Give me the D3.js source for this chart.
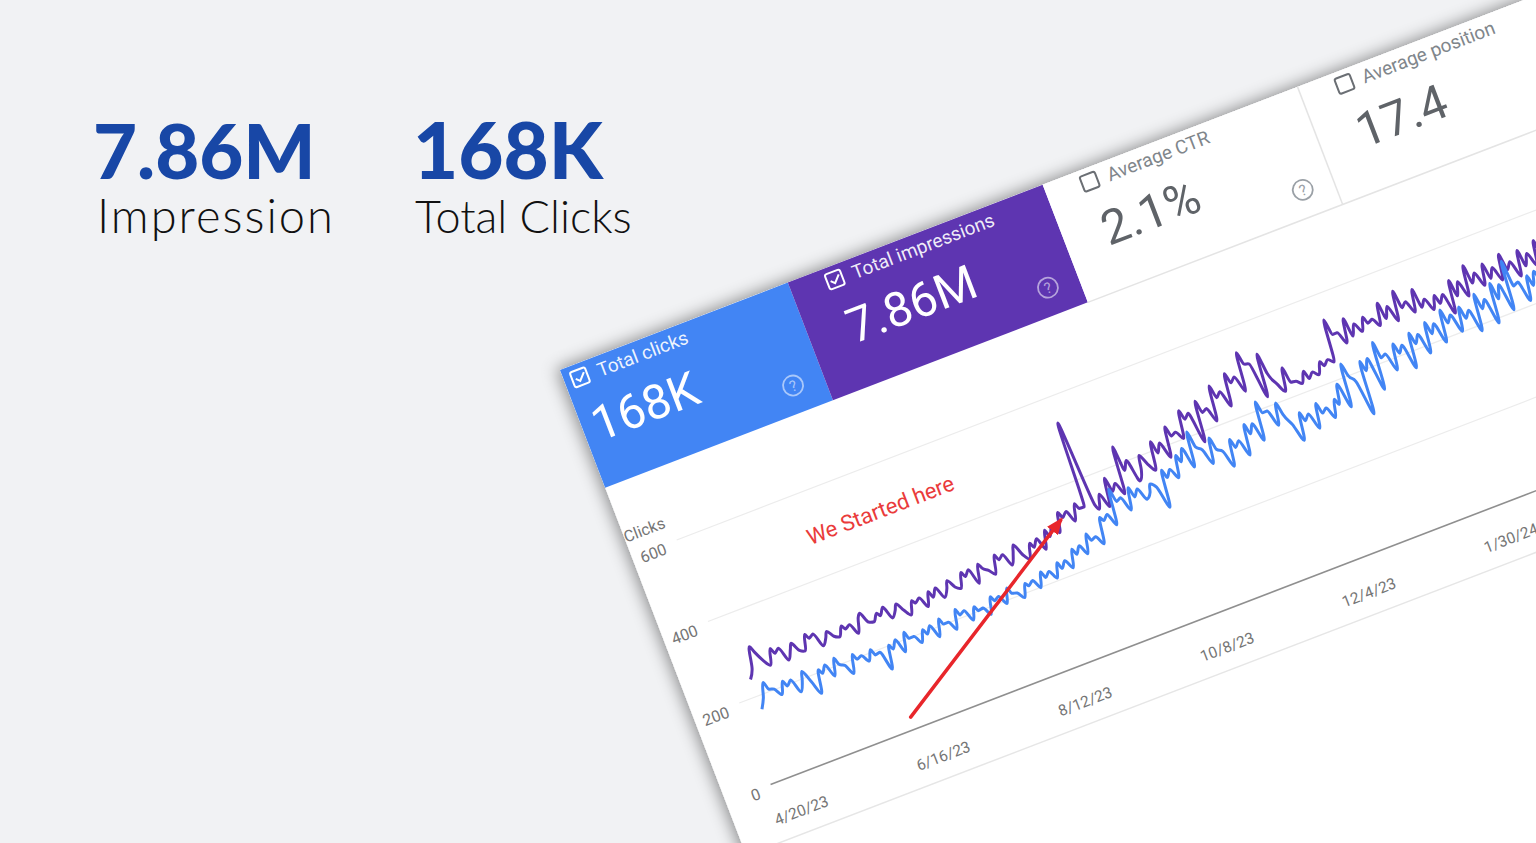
<!DOCTYPE html>
<html><head><meta charset="utf-8">
<script src="https://cdn.jsdelivr.net/npm/d3@7"></script>
<style>html,body{margin:0;padding:0;background:#f1f2f4;overflow:hidden}</style>
</head><body>
<svg id="c" width="1536" height="843"></svg>
<script>
// ---------- data ----------
const summaryValues = ["7.86M", "168K"];
const summaryLabels = ["Impression", "Total Clicks"];

const metricLabels = ["Total clicks", "Total impressions", "Average CTR", "Average position"];
const metricValues = ["168K", "7.86M", "2.1%", "17.4"];
const metricChecked = [true, true, false, false];

const dates = [
"2023-04-20","2023-04-22","2023-04-24","2023-04-25", "2023-04-27","2023-04-29","2023-05-01","2023-05-02",
"2023-05-04","2023-05-06","2023-05-08","2023-05-09", "2023-05-11","2023-05-13","2023-05-15","2023-05-16",
"2023-05-18","2023-05-20","2023-05-22","2023-05-23", "2023-05-25","2023-05-27","2023-05-29","2023-05-30",
"2023-06-01","2023-06-03","2023-06-05","2023-06-06", "2023-06-08","2023-06-10","2023-06-12","2023-06-13",
"2023-06-15","2023-06-17","2023-06-19","2023-06-20", "2023-06-22","2023-06-24","2023-06-26","2023-06-27",
"2023-06-29","2023-07-01","2023-07-03","2023-07-04", "2023-07-06","2023-07-08","2023-07-10","2023-07-11",
"2023-07-13","2023-07-15","2023-07-17","2023-07-18", "2023-07-20","2023-07-22","2023-07-24","2023-07-25",
"2023-07-27","2023-07-29","2023-07-31","2023-08-01", "2023-08-03","2023-08-05","2023-08-07","2023-08-08",
"2023-08-10","2023-08-12","2023-08-14","2023-08-15", "2023-08-17","2023-08-19","2023-08-21","2023-08-22",
"2023-08-24","2023-08-26","2023-08-28","2023-08-29", "2023-08-31","2023-09-02","2023-09-04","2023-09-05",
"2023-09-07","2023-09-09","2023-09-11","2023-09-12", "2023-09-14","2023-09-16","2023-09-18","2023-09-19",
"2023-09-21","2023-09-23","2023-09-25","2023-09-26", "2023-09-28","2023-09-30","2023-10-02","2023-10-03",
"2023-10-05","2023-10-07","2023-10-09","2023-10-10", "2023-10-12","2023-10-14","2023-10-16","2023-10-17",
"2023-10-19","2023-10-21","2023-10-23","2023-10-24", "2023-10-26","2023-10-28","2023-10-30","2023-10-31",
"2023-11-02","2023-11-04","2023-11-06","2023-11-07", "2023-11-09","2023-11-11","2023-11-13","2023-11-14",
"2023-11-16","2023-11-18","2023-11-20","2023-11-21", "2023-11-23","2023-11-25","2023-11-27","2023-11-28",
"2023-11-30","2023-12-02","2023-12-04","2023-12-05", "2023-12-07","2023-12-09","2023-12-11","2023-12-12",
"2023-12-14","2023-12-16","2023-12-18","2023-12-19", "2023-12-21","2023-12-23","2023-12-25","2023-12-26",
"2023-12-28","2023-12-30","2024-01-01","2024-01-02", "2024-01-04","2024-01-06","2024-01-08","2024-01-09",
"2024-01-11","2024-01-13","2024-01-15","2024-01-16", "2024-01-18","2024-01-20","2024-01-22","2024-01-23",
"2024-01-25","2024-01-27","2024-01-29","2024-01-30", "2024-02-01","2024-02-03","2024-02-05","2024-02-06",
"2024-02-08","2024-02-10","2024-02-12","2024-02-13", "2024-02-15","2024-02-17","2024-02-19","2024-02-20",
"2024-02-22","2024-02-24","2024-02-26","2024-02-27", "2024-02-29","2024-03-02","2024-03-04","2024-03-05",
"2024-03-07","2024-03-09","2024-03-11","2024-03-12", "2024-03-14","2024-03-16","2024-03-18","2024-03-19",
"2024-03-21","2024-03-23","2024-03-25","2024-03-26", "2024-03-28","2024-03-30","2024-04-01","2024-04-02"];

const clicks = [
167,190,223,205, 200,182,210,196, 206,172,196,215, 185,152,205,194, 210,178,217,200,
192,168,210,196, 200,182,205,190, 192,146,200,188, 206,172,215,198, 198,178,205,192,
208,176,215,200, 200,178,222,206, 212,184,212,200, 202,182,220,208, 214,192,225,210,
206,190,220,212, 220,198,232,216, 226,205,238,222, 236,214,255,240, 256,232,276,258,
262,240,300,290, 300,270,353,320, 325,290,340,315, 330,300,312,330, 318,264,350,330,
345,320,370,352, 380,330,411,372, 360,322,380,350, 340,299,360,338, 350,310,380,355,
375,330,419,390, 390,350,400,370, 340,297,360,338, 350,310,366,340, 348,320,360,345,
390,330,430,400, 380,296,420,395, 420,340,450,410, 415,371,430,405, 420,360,440,412,
430,380,450,420, 440,390,464,430, 445,400,455,425, 440,385,470,432, 450,388,480,440,
470,404,518,455, 460,410,466,440, 470,420,490,450, 478,430,500,462, 472,425,495,458];

// impressions line, as it sits on the shared grid (its own right-hand axis is cropped out)
const impressions = [
240,262,311,296, 270,254,290,276, 284,250,272,284, 262,256,292,280, 286,252,268,280,
264,258,280,270, 276,250,284,292, 266,262,278,270, 286,255,270,282, 262,246,276,268,
276,250,282,266, 284,256,274,290, 270,262,296,284, 296,258,300,288, 278,264,306,292,
300,270,296,312, 284,268,302,290, 306,276,318,300, 320,300,345,330, 340,312,350,336,
335,536,330,318, 350,315,380,345, 360,330,440,380, 400,345,368,400, 374,355,420,390,
410,370,440,415, 420,400,463,440, 450,375,470,440, 445,410,491,460, 470,430,505,480,
490,450,540,510, 505,420,520,470, 440,417,470,432, 430,420,445,425, 436,425,452,440,
450,440,538,500, 500,470,525,480, 505,482,512,495, 500,480,530,490, 515,475,543,500,
510,480,531,485, 500,470,500,478, 495,445,520,480, 510,470,540,495, 515,480,528,490,
512,477,535,495, 510,470,528,488, 514,480,536,494, 516,488,534,496, 510,485,530,494];

const yTicks = [0, 200, 400, 600];
const xTickDates = ["2023-04-20","2023-06-16","2023-08-12","2023-10-08","2023-12-04","2024-01-30"];

const noteText = "We Started here";
const notePos = {date: "2023-05-29", value: 478};
const arrowFrom = {date: "2023-06-10", value: 28};
const arrowTo = {date: "2023-08-28", value: 326};

// ---------- drawing ----------
const parse = d3.timeParse("%Y-%m-%d");
const svg = d3.select("#c");
svg.append("rect").attr("width",1536).attr("height",843).attr("fill","#f1f2f4");

const defs = svg.append("defs");
const f = defs.append("filter").attr("id","sh").attr("x","-20%").attr("y","-20%").attr("width","140%").attr("height","140%");
f.append("feDropShadow").attr("dx",-3).attr("dy",-2).attr("stdDeviation",8).attr("flood-color","#000").attr("flood-opacity",0.42);
defs.append("marker").attr("id","ah").attr("viewBox","0 0 10 8").attr("refX",8).attr("refY",4)
  .attr("markerWidth",17).attr("markerHeight",14).attr("markerUnits","userSpaceOnUse").attr("orient","auto")
  .append("path").attr("d","M0,0L10,4L0,8z").attr("fill","#e8262b");

// summary text
const sx = [93, 413], sLx = [97, 415];
const sLabelSize = ["47px", "45px"], sLabelSpacing = ["2px", "0px"];
summaryValues.forEach((v,i)=>{
  svg.append("text").attr("x",sx[i]).attr("y",179).text(v)
    .style("font-family","Lato, sans-serif").style("font-weight",900).style("font-size", i===0?"76px":"78px").attr("fill","#1847a6");
  svg.append("text").attr("x",sLx[i]).attr("y",233).text(summaryLabels[i])
    .style("font-family","Lato, sans-serif").style("font-weight",300).style("font-size",sLabelSize[i])
    .style("letter-spacing",sLabelSpacing[i]).attr("fill","#111");
});

// rotated dashboard screenshot
const g = svg.append("g").attr("transform","translate(560,370) rotate(-21)");
g.append("rect").attr("x",0).attr("y",0).attr("width",1500).attr("height",1100).attr("fill","#fff").attr("filter","url(#sh)");

const cardLeft = [-29, 244, 517, 790], cardW = 273, headH = 126;
const cardFill = ["#4285f4", "#5e35b1", "#fff", "#fff"];
cardLeft.forEach((L,i)=>{
  const x0 = Math.max(L,0);
  g.append("rect").attr("x",x0).attr("y",0).attr("width",L+cardW-x0).attr("height",headH).attr("fill",cardFill[i]);
});
g.append("line").attr("x1",517).attr("x2",1500).attr("y1",headH).attr("y2",headH).attr("stroke","#e4e4e4").attr("stroke-width",1.5);
g.append("line").attr("x1",790).attr("x2",790).attr("y1",0).attr("y2",headH).attr("stroke","#e4e4e4").attr("stroke-width",1.5);

const font = "Roboto, Arial, sans-serif";
metricLabels.forEach((lab,i)=>{
  const L = cardLeft[i];
  const col = metricChecked[i] ? "#fff" : "#6b6f74";
  const cb = g.append("g");
  cb.append("rect").attr("x",L+37).attr("y",6).attr("width",16).attr("height",16).attr("rx",2)
    .attr("fill","none").attr("stroke",col).attr("stroke-width",2);
  if (metricChecked[i]) cb.append("path").attr("d",`M${L+40.5},${14}l3.5,3.5l6.5,-7`).attr("fill","none").attr("stroke",col).attr("stroke-width",2);
  g.append("text").attr("x",L+64).attr("y",21).text(lab).attr("fill", metricChecked[i]?"rgba(255,255,255,0.92)":"#80868b")
    .style("font-family",font).style("font-size","19px");
  g.append("text").attr("x",L+40).attr("y",81).text(metricValues[i]).attr("fill", metricChecked[i]?"#fff":"#5f6368")
    .style("font-family",font).style("font-size","48px");
  const qc = metricChecked[i] ? "rgba(255,255,255,0.55)" : "#9aa0a6";
  g.append("circle").attr("cx",L+cardW-32).attr("cy",98).attr("r",10).attr("fill","none").attr("stroke",qc).attr("stroke-width",1.8);
  g.append("text").attr("x",L+cardW-32).attr("y",103.5).attr("text-anchor","middle").text("?").attr("fill",qc)
    .style("font-family",font).style("font-size","15px");
});

// chart
const plotLeft = 48, plotRight = 1500;
const x = d3.scaleTime().domain([parse("2023-04-20"), parse("2024-03-27")]).range([67, 979]);
const y = d3.scaleLinear().domain([0, 600]).range([462, 200]);

g.append("text").attr("x",0).attr("y",185).text("Clicks").attr("fill","#757575").style("font-family",font).style("font-size","16px");

const gy = g.append("g").attr("transform",`translate(${plotLeft},0)`)
  .call(d3.axisLeft(y).tickValues(yTicks).tickSize(-(plotRight-plotLeft)).tickPadding(13));
gy.select(".domain").remove();
gy.selectAll(".tick line").attr("stroke", d => d===0 ? "#8f8f8f" : "#ececec").attr("stroke-width", d => d===0?1.6:1.2);
gy.selectAll(".tick text").attr("fill","#757575").attr("dy","0.6em").style("font-family",font).style("font-size","16px");

const gx = g.append("g").attr("transform",`translate(0,${y(0)})`)
  .call(d3.axisBottom(x).tickValues(xTickDates.map(parse)).tickFormat(d3.timeFormat("%-m/%-d/%y")).tickSize(0).tickPadding(30));
gx.select(".domain").remove();
gx.selectAll(".tick text").attr("fill","#757575").style("font-family",font).style("font-size","15.5px");

g.append("line").attr("x1",0).attr("x2",plotRight).attr("y1",520).attr("y2",520).attr("stroke","#e6e6e6").attr("stroke-width",1.5);

const pdates = dates.map(parse);
const line = vals => d3.line().x((d,i)=>x(pdates[i])).y(d=>y(d)).curve(d3.curveMonotoneX)(vals);
g.append("path").attr("d",line(impressions)).attr("fill","none").attr("stroke","#5e35b1").attr("stroke-width",3).attr("stroke-linejoin","round");
g.append("path").attr("d",line(clicks)).attr("fill","none").attr("stroke","#4285f4").attr("stroke-width",3).attr("stroke-linejoin","round");

g.append("text").attr("x",x(parse(notePos.date))).attr("y",y(notePos.value)).text(noteText)
  .attr("fill","#ea3b3b").style("font-family",font).style("font-size","22px");

g.append("line").attr("x1",x(parse(arrowFrom.date))).attr("y1",y(arrowFrom.value))
  .attr("x2",x(parse(arrowTo.date))).attr("y2",y(arrowTo.value))
  .attr("stroke","#e8262b").attr("stroke-width",3.5).attr("stroke-linecap","round").attr("marker-end","url(#ah)");
</script>
</body></html>
